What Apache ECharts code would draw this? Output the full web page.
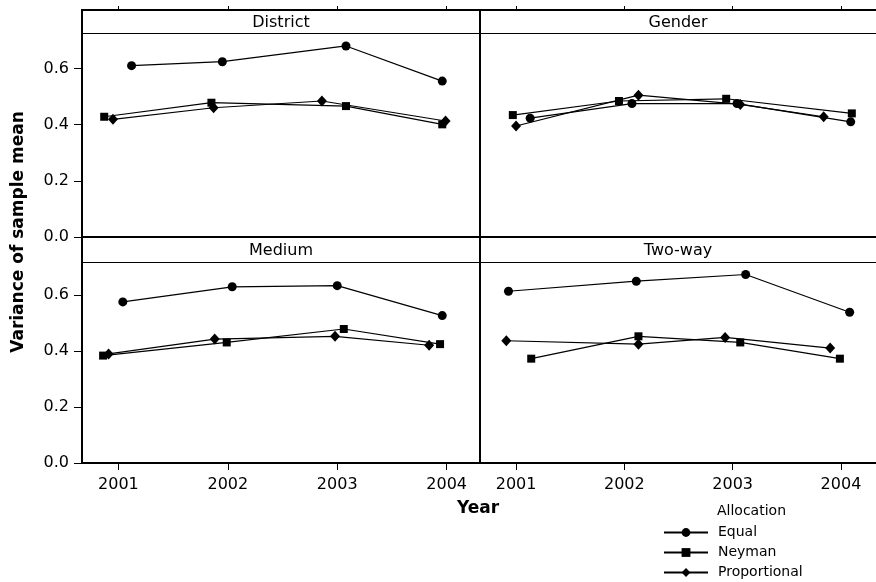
<!DOCTYPE html>
<html>
<head>
<meta charset="utf-8">
<script src="https://cdn.jsdelivr.net/npm/echarts@6/dist/echarts.min.js"></script>
<style>
  html, body { margin: 0; padding: 0; background: #fff; }
  #chart { width: 876px; height: 582px; }
</style>
</head>
<body>
<div id="chart"></div>
<script>
// facet names, year ticks
const panelNames = ['District', 'Gender', 'Medium', 'Two-way']
const yearTicks = [2001, 2002, 2003, 2004]
const yTicks = [0, 0.2, 0.4, 0.6]

// [jittered year, variance]
const districtEqual = [[2001.12, 0.610], [2001.95, 0.624], [2003.08, 0.680], [2003.96, 0.555]]
const districtNeyman = [[2000.87, 0.428], [2001.85, 0.478], [2003.08, 0.466], [2003.96, 0.401]]
const districtProp = [[2000.95, 0.419], [2001.87, 0.460], [2002.86, 0.484], [2003.99, 0.413]]

const genderEqual = [[2001.13, 0.423], [2002.07, 0.475], [2003.04, 0.475], [2004.09, 0.410]]
const genderNeyman = [[2000.97, 0.434], [2001.95, 0.484], [2002.94, 0.492], [2004.10, 0.440]]
const genderProp = [[2001.00, 0.395], [2002.13, 0.505], [2003.07, 0.472], [2003.84, 0.428]]

const mediumEqual = [[2001.04, 0.576], [2002.04, 0.630], [2003.00, 0.634], [2003.96, 0.527]]
const mediumNeyman = [[2000.86, 0.384], [2001.99, 0.431], [2003.06, 0.479], [2003.94, 0.425]]
const mediumProp = [[2000.91, 0.390], [2001.88, 0.443], [2002.98, 0.453], [2003.84, 0.421]]

const twowayEqual = [[2000.93, 0.614], [2002.11, 0.650], [2003.12, 0.674], [2004.08, 0.539]]
const twowayNeyman = [[2001.14, 0.373], [2002.13, 0.453], [2003.07, 0.431], [2003.99, 0.373]]
const twowayProp = [[2000.91, 0.437], [2002.13, 0.425], [2002.93, 0.449], [2003.90, 0.411]]

const panelData = [
  [districtEqual, districtNeyman, districtProp],
  [genderEqual, genderNeyman, genderProp],
  [mediumEqual, mediumNeyman, mediumProp],
  [twowayEqual, twowayNeyman, twowayProp]
]

const seriesNames = ['Equal', 'Neyman', 'Proportional']
const symbols = ['circle', 'rect', 'diamond']
const symbolSizes = [9, 8, [10, 11]]

const font = 'DejaVu Sans'

// panel boxes (the strip sits inside the grid, above the data)
const boxes = [
  { left: 82, top: 10, width: 398, height: 227 },
  { left: 480, top: 10, width: 400, height: 227 },
  { left: 82, top: 237, width: 398, height: 226 },
  { left: 480, top: 237, width: 400, height: 226 }
]
const stripH = [23, 23, 25, 25]
const yMax = 0.808

const grids = boxes.map(b => ({
  left: b.left, top: b.top, width: b.width, height: b.height, show: false
}))

const xAxes = boxes.map((b, i) => ({
  type: 'value',
  gridIndex: i,
  min: 2000.667,
  max: 2000.667 + b.width / 109.4,
  position: i < 2 ? 'top' : 'bottom',
  axisLine: { show: false, onZero: false },
  splitLine: { show: false },
  axisTick: {
    show: true, inside: false, length: i < 2 ? 4 : 7,
    customValues: yearTicks,
    lineStyle: { color: '#000', width: 1 }
  },
  axisLabel: {
    show: i >= 2,
    customValues: yearTicks,
    formatter: v => String(v),
    color: '#000', fontFamily: font, fontSize: 16, margin: 14
  }
}))

const yAxes = boxes.map((b, i) => ({
  type: 'value',
  gridIndex: i,
  min: 0,
  max: yMax,
  axisLine: { show: false, onZero: false },
  splitLine: { show: false },
  axisTick: {
    show: i % 2 === 0, inside: false, length: 8,
    customValues: yTicks,
    lineStyle: { color: '#000', width: 1 }
  },
  axisLabel: {
    show: i % 2 === 0,
    customValues: yTicks,
    formatter: v => v.toFixed(1),
    color: '#000', fontFamily: font, fontSize: 16, margin: 13
  }
}))

const series = []
panelData.forEach((sets, p) => {
  sets.forEach((d, k) => {
    series.push({
      name: seriesNames[k],
      type: 'line',
      xAxisIndex: p,
      yAxisIndex: p,
      data: d,
      symbol: symbols[k],
      symbolSize: symbolSizes[k],
      showSymbol: true,
      itemStyle: { color: '#000' },
      lineStyle: { color: '#000', width: 1.2 },
      emphasis: { disabled: true },
      animation: false
    })
  })
})

// panel frames, strip headers and titles
const graphics = []
const frame = { stroke: '#000', lineWidth: 2, fill: null }
graphics.push({ type: 'rect', shape: { x: 82, y: 10, width: 398, height: 453 }, style: frame })
graphics.push({ type: 'line', shape: { x1: 82, y1: 237, x2: 880, y2: 237 }, style: frame })
graphics.push({ type: 'line', shape: { x1: 480, y1: 10, x2: 880, y2: 10 }, style: frame })
graphics.push({ type: 'line', shape: { x1: 480, y1: 463, x2: 880, y2: 463 }, style: frame })
boxes.forEach((b, i) => {
  const y = b.top + stripH[i] + 0.5
  graphics.push({
    type: 'line',
    shape: { x1: b.left, y1: y, x2: b.left + b.width, y2: y },
    style: { stroke: '#000', lineWidth: 1 }
  })
  graphics.push({
    type: 'text',
    x: i % 2 === 1 ? 678 : b.left + b.width / 2,
    y: b.top + stripH[i] / 2 + 1,
    style: {
      text: panelNames[i], fill: '#000', font: '16px "' + font + '"',
      textAlign: 'center', textVerticalAlign: 'middle'
    }
  })
})
graphics.push({
  type: 'text', x: 478, y: 509,
  style: {
    text: 'Year', fill: '#000', font: 'bold 17px "' + font + '"',
    textAlign: 'center', textVerticalAlign: 'middle'
  }
})
graphics.push({
  type: 'text', x: 19, y: 232, rotation: Math.PI / 2,
  style: {
    text: 'Variance of sample mean', fill: '#000', font: 'bold 17px "' + font + '"',
    textAlign: 'center', textVerticalAlign: 'middle'
  }
})
graphics.push({
  type: 'text', x: 717, y: 511,
  style: {
    text: 'Allocation', fill: '#000', font: '14px "' + font + '"',
    textAlign: 'left', textVerticalAlign: 'middle'
  }
})

const option = {
  backgroundColor: '#fff',
  animation: false,
  textStyle: { fontFamily: font },
  grid: grids,
  xAxis: xAxes,
  yAxis: yAxes,
  legend: {
    data: seriesNames,
    orient: 'vertical',
    left: 663,
    top: 525.5,
    height: 150,
    padding: 0,
    itemWidth: 44,
    itemHeight: 11,
    itemGap: 6,
    selectedMode: false,
    textStyle: { color: '#000', fontFamily: font, fontSize: 14, padding: [0, 0, 0, 5] }
  },
  graphic: graphics,
  series: series
}

const chart = echarts.init(document.getElementById('chart'))
chart.setOption(option)
</script>
</body>
</html>
